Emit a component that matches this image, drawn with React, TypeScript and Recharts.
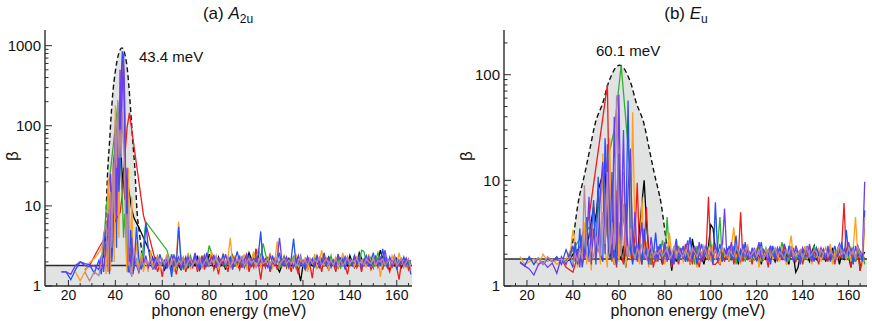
import { ComposedChart, Line, Area, XAxis, YAxis } from "recharts";

const _ = null;
const FONT = '"Liberation Sans", Arial, Helvetica, sans-serif';
const FRAME = "#2b2b2b";
const TEXT = "#111";
const GREY = "#e1e3e3";

// axis ticks
const xTicks = [15, 20, 25, 30, 35, 40, 45, 50, 55, 60, 65, 70, 75, 80, 85, 90, 95, 100, 105, 110, 115, 120, 125, 130, 135, 140, 145, 150, 155, 160, 165];
const xLabels = [20, 40, 60, 80, 100, 120, 140, 160];
const yTicksA = [1, 2, 3, 4, 5, 6, 7, 8, 9, 10, 20, 30, 40, 50, 60, 70, 80, 90, 100, 200, 300, 400, 500, 600, 700, 800, 900, 1000];
const yLabelsA = [1, 10, 100, 1000];
const yTicksB = [1, 2, 3, 4, 5, 6, 7, 8, 9, 10, 20, 30, 40, 50, 60, 70, 80, 90, 100, 200];
const yLabelsB = [1, 10, 100];

const seriesKeys = ["k", "r", "g", "o", "b", "v", "m"];
const seriesColors = ["#000000", "#ee1c1c", "#2fb02f", "#ff9f1c", "#2451f5", "#6a3cec", "#b8879b"];

// ---------- panel (a) A2u ----------
const energyA = [
  17, 19, 21, 23, 25, 27, 29, 31, 33, 34,
  35, 36, 37, 37.5, 38, 38.5, 39, 39.5, 40, 40.5,
  41, 41.5, 42, 42.5, 43, 43.5, 44, 44.5, 45, 45.5,
  46, 46.5, 47, 47.5, 48, 49, 50, 51, 52, 53,
  54, 55, 56, 57, 58, 59, 60, 61, 62, 63,
  64, 65, 66, 67, 68, 69, 70, 71, 72, 73,
  74, 75, 76, 77, 78, 79, 80, 81, 82, 83,
  84, 85, 86, 87, 88, 89, 90, 91, 92, 93,
  94, 95, 96, 97, 98, 99, 100, 101, 102, 103,
  104, 105, 106, 107, 108, 109, 110, 111, 112, 113,
  114, 115, 116, 117, 118, 119, 120, 121, 122, 123,
  124, 125, 126, 127, 128, 129, 130, 131, 132, 133,
  134, 135, 136, 137, 138, 139, 140, 141, 142, 143,
  144, 145, 146, 147, 148, 149, 150, 151, 152, 153,
  154, 155, 156, 157, 158, 159, 160, 161, 162, 163,
  164, 165, 166,
];
const blackA = [
  _, _, _, _, _, _, _, _, 1.8, 2.0,
  2.4, 3.2, 4.6, _, 9, _, 24, _, 60, _,
  105, _, 120, 45, 16, 30, 12, _, 22, _,
  14, _, 9, _, 7, _, 5.4, _, _, _,
  _, _, _, 1.9, _, 1.8, 2.0, 1.6, 1.9, 2.1,
  1.7, 1.9, 2.3, 1.8, 1.6, 2.0, 2.2, 1.7, 1.9, 2.0,
  1.8, 2.4, 1.6, 1.9, 2.2, 1.8, 2.5, 2.0, 1.7, 1.9,
  2.3, 1.8, 2.0, 1.6, 2.2, 1.9, 2.4, 1.8, 2.0, 1.7,
  2.1, 2.3, 1.9, 2.6, 2.2, 2.0, 2.8, 2.4, 1.9, 2.1,
  1.8, 2.2, 1.6, 1.9, 2.0, 1.7, 1.5, 1.8, 2.1, 1.9,
  2.2, 1.8, 2.0, 2.1, 1.6, 1.15, 1.8, 2.0, 1.7, 2.0,
  1.8, 2.2, 1.9, 1.7, 2.1, 1.8, 2.0, 2.3, 1.9, 1.8,
  2.0, 1.7, 2.2, 1.9, 2.1, 1.8, 2.4, 2.0, 1.7, 1.9,
  2.6, 2.2, 1.8, 2.0, 1.9, 2.1, 1.7, 2.3, 2.0, 2.8,
  2.2, 1.9, 2.1, 1.6, 2.0, 1.8, 2.2, 1.9, 1.7, 2.0,
  1.8, 2.1, 1.9,
];
const redA = [
  _, _, _, _, _, 1.6, 1.8, _, 3.0, _,
  _, _, _, _, 5.2, _, _, _, _, _,
  _, _, 8.2, _, 14, _, 40, _, 95, _,
  145, _, _, _, _, _, _, _, 7.6, _,
  4.6, _, _, 2.1, 1.5, 1.9, 1.3, 2.0, 1.7, 2.2,
  1.6, 1.9, 1.4, 2.0, 1.8, 2.3, 1.5, 1.9, 2.1, 1.7,
  2.2, 1.5, 1.9, 2.4, 1.6, 2.0, 1.8, 2.5, 1.6, 1.9,
  1.4, 2.2, 1.8, 2.0, 1.5, 2.3, 1.7, 2.1, 1.9, 1.6,
  2.2, 1.8, 2.5, 1.5, 2.0, 1.7, 2.9, 1.9, 1.2, 2.1,
  1.7, 2.3, 1.5, 1.9, 2.2, 1.6, 2.0, 1.8, 2.4, 1.7,
  2.0, 1.5, 2.2, 1.8, 1.4, 2.1, 1.9, 1.6, 2.0, 1.8,
  1.25, 2.2, 1.7, 2.0, 1.5, 2.3, 1.8, 1.6, 2.1, 1.9,
  1.5, 2.2, 1.7, 2.0, 1.8, 1.4, 2.1, 1.9, 2.4, 1.7,
  2.0, 1.5, 2.2, 1.8, 2.1, 1.6, 1.9, 2.3, 1.7, 2.0,
  1.6, 2.2, 1.8, 1.5, 2.1, 1.9, 1.7, 1.2, 2.0, 1.8,
  2.2, 1.6, 1.9,
];
const greenA = [
  _, _, _, _, _, _, _, _, _, 2.0,
  3.2, 8.5, _, _, _, _, _, _, _, _,
  180, _, 50, _, 12, 4, 8, _, 2.5, _,
  3, _, 1.8, _, 2.4, _, _, 1.7, _, 6.3,
  _, _, _, _, _, _, _, _, 2.8, 2.2,
  1.9, 2.5, 1.7, 2.0, 2.3, 1.6, 2.1, 1.8, 2.4, 1.9,
  2.2, 1.7, 2.0, 1.8, 2.3, 2.1, 3.2, 2.6, 1.9, 2.2,
  1.8, 2.0, 2.4, 1.7, 2.1, 1.9, 2.3, 1.8, 2.0, 2.1,
  1.7, 2.4, 1.9, 2.2, 1.8, 2.6, 2.0, 2.8, 2.3, 3.4,
  2.5, 2.0, 1.8, 2.2, 1.9, 2.1, 1.7, 2.0, 2.3, 1.8,
  2.1, 1.9, 2.4, 1.7, 2.0, 2.2, 1.8, 2.0, 1.6, 2.1,
  1.9, 2.3, 1.7, 2.0, 2.2, 1.8, 2.1, 1.9, 2.4, 1.8,
  2.0, 2.2, 1.7, 1.9, 2.3, 2.0, 1.8, 2.1, 1.9, 2.2,
  1.8, 2.8, 2.7, 2.0, 1.9, 2.3, 1.7, 2.1, 2.6, 2.0,
  1.8, 2.3, 1.9, 2.2, 1.7, 2.0, 2.1, 1.8, 2.2, 1.9,
  2.1, 1.8, 2.0,
];
const orangeA = [
  _, _, _, 1.5, 1.16, 1.5, 1.95, 2.2, 2.6, 3.0,
  3.5, 1.4, 22, 1.5, 1.6, 12, 30, 2, 180, 20,
  60, 4, 120, 250, 700, 300, 40, 3, 1.5, 30,
  8, 1.6, 13, 2, 1.6, 3.5, 1.4, 2.6, 1.5, 2.2,
  1.5, 2.8, 1.7, 2.0, 2.4, 1.6, 2.2, 1.9, 2.5, 1.8,
  2.1, 1.5, 2.3, 6.4, 1.7, 2.2, 1.9, 2.6, 1.6, 2.0,
  2.4, 1.7, 2.2, 1.9, 2.5, 1.8, 2.1, 2.7, 1.9, 2.3,
  1.6, 2.0, 2.6, 1.8, 2.2, 4.0, 1.9, 2.4, 1.7, 2.1,
  1.9, 2.5, 1.6, 2.2, 2.0, 2.7, 1.8, 3.0, 1.7, 2.3,
  1.9, 2.1, 2.6, 1.7, 2.0, 3.6, 2.2, 1.8, 2.4, 2.0,
  1.6, 2.2, 1.9, 2.5, 1.7, 2.1, 1.8, 2.3, 1.5, 2.2,
  1.9, 2.5, 1.7, 2.0, 2.8, 1.8, 2.2, 1.6, 2.1, 1.9,
  2.3, 1.7, 2.0, 2.6, 1.8, 2.2, 1.9, 2.1, 1.7, 2.4,
  1.8, 2.0, 2.2, 1.7, 2.5, 1.9, 2.1, 1.8, 2.3, 1.3,
  2.1, 1.9, 2.2, 1.7, 2.4, 2.0, 1.8, 2.6, 1.9, 2.2,
  1.7, 2.0, 1.8,
];
const blueA = [
  1.5, 1.5, 1.2, 1.6, 2.0, 1.9, 1.85, 1.45, 2.1, 1.4,
  2.8, 6, 1.5, 9, 15, 2, 4, 25, 60, 3,
  200, 15, 30, 400, 850, 500, 100, 6, 15, 1.5,
  1.5, 5, 3, 1.4, 1.7, 5.5, 2.2, 1.6, 2.0, 6.2,
  3.0, 2.0, 1.6, 2.3, 1.8, 2.5, 1.9, 2.1, 1.7, 2.0,
  1.3, 2.4, 1.8, 5.5, 2.1, 1.7, 2.3, 1.9, 2.2, 1.8,
  2.5, 2.0, 1.6, 2.2, 1.9, 2.6, 1.8, 2.1, 2.4, 1.7,
  2.2, 1.9, 2.5, 1.8, 2.0, 2.3, 1.6, 2.1, 2.7, 1.9,
  2.3, 1.7, 2.1, 2.4, 1.8, 2.2, 2.0, 2.5, 4.8, 1.8,
  2.2, 2.0, 1.6, 2.4, 1.9, 2.1, 2.6, 1.8, 2.3, 2.0,
  1.7, 2.2, 3.9, 1.9, 2.4, 1.8, 2.1, 1.6, 2.3, 1.9,
  2.2, 1.7, 2.4, 2.0, 1.8, 2.6, 1.9, 2.2, 1.7, 2.1,
  1.8, 2.5, 1.9, 2.2, 1.6, 2.3, 2.0, 1.8, 2.4, 1.9,
  2.2, 1.7, 2.1, 2.4, 1.8, 2.0, 2.6, 1.9, 2.2, 1.8,
  2.9, 2.0, 1.7, 2.3, 1.9, 2.2, 1.6, 2.1, 1.9, 2.3,
  1.8, 2.0, 1.4,
];
const violetA = [
  1.5, 1.5, 1.4, 1.8, 2.0, 1.8, 1.75, 1.8, 1.6, 2.4,
  1.5, 3.5, 8, 1.4, 25, 4, 10, 40, 80, 6,
  150, 20, 500, 80, 300, 800, 200, 10, 30, 2,
  2.5, 1.4, 4, 1.6, 2.3, 1.8, 1.5, 2.1, 1.8, 2.4,
  1.7, 2.0, 2.2, 1.6, 2.3, 1.9, 2.1, 1.7, 2.2, 1.9,
  2.5, 1.8, 2.0, 2.3, 1.6, 2.1, 1.9, 2.3, 1.8, 2.0,
  2.6, 1.7, 2.2, 1.9, 2.4, 1.8, 2.1, 1.9, 2.4, 1.7,
  2.2, 2.0, 1.8, 2.5, 1.9, 2.1, 1.7, 2.2, 1.9, 2.4,
  1.7, 2.1, 2.5, 1.8, 2.2, 1.9, 2.3, 1.8, 2.1, 2.3,
  1.9, 1.7, 2.4, 2.0, 1.8, 2.2, 4.0, 2.1, 1.8, 2.3,
  1.9, 2.0, 1.7, 2.2, 1.9, 2.4, 1.8, 2.0, 2.3, 1.8,
  2.1, 1.9, 2.4, 1.7, 2.2, 2.0, 1.8, 2.2, 1.9, 2.1,
  1.7, 2.4, 2.0, 1.8, 2.3, 1.9, 2.1, 1.8, 2.2, 2.0,
  2.4, 1.7, 2.1, 1.9, 2.3, 1.8, 2.0, 2.1, 1.8, 2.3,
  2.0, 2.8, 1.9, 2.2, 1.7, 2.4, 2.0, 1.8, 2.1, 1.9,
  2.2, 1.9, 2.1,
];
const mauveA = [
  _, _, _, _, _, 1.5, 1.16, 1.5, 1.35, 2.0,
  4.5, 6, 1.5, 10, 15, 3, 35, 8, 120, 30,
  210, 40, 90, 40, 150, 60, 25, 4, 8, 1.8,
  2, 1.5, 1.3, 2.2, 3, 1.9, 1.6, 2.2, 1.8, 2.1,
  1.9, 2.2, 1.7, 2.0, 2.3, 1.8, 2.1, 1.9, 2.4, 1.7,
  2.0, 2.2, 1.8, 2.1, 1.9, 2.3, 1.7, 2.0, 2.2, 1.8,
  2.1, 1.9, 2.3, 1.7, 2.0, 2.2, 1.8, 2.1, 1.9, 2.4,
  1.8, 2.0, 2.2, 1.9, 2.3, 1.7, 2.1, 1.9, 2.2, 2.0,
  2.3, 1.8, 2.0, 2.2, 1.9, 2.1, 1.7, 2.0, 2.3, 1.9,
  2.0, 2.2, 1.8, 2.1, 1.9, 2.3, 1.8, 2.0, 2.2, 1.9,
  2.1, 1.9, 2.2, 1.8, 2.0, 2.3, 1.9, 2.1, 1.8, 2.2,
  1.9, 2.1, 2.0, 2.3, 1.8, 2.0, 2.2, 1.9, 2.1, 1.8,
  2.2, 1.9, 2.1, 1.8, 2.0, 2.3, 1.9, 2.1, 2.0, 2.2,
  1.9, 2.1, 1.8, 2.2, 2.0, 1.9, 2.3, 1.8, 2.1, 2.0,
  2.2, 1.8, 2.0, 2.1, 1.9, 2.3, 1.8, 2.0, 2.2, 1.7,
  2.0, 2.2, 1.6,
];
// dashed envelope, peak 43.4 meV
const envEnergyA = [35.3, 35.6, 36.1, 36.8, 37.4, 38.1, 38.8, 40, 41.2, 42.8, 44.2, 45.2, 46.1, 46.8, 47.6, 48.3, 49.2, 50.3, 51.2, 51.9];
const envBetaA = [1.8, 3, 9, 30, 55, 120, 233, 480, 750, 940, 750, 480, 233, 120, 55, 30, 9, 4.5, 2.8, 1.8];
const bandEnergyA = [10, 166.5];
const bandBetaA = [1.8, 1.8];

// ---------- panel (b) Eu ----------
const energyB = [
  17, 19, 21, 23, 25, 27, 29, 31, 33, 35,
  37, 39, 40, 41, 42, 43, 44, 45, 46, 47,
  48, 49, 50, 51, 52, 53, 54, 55, 56, 57,
  58, 59, 60, 61, 62, 63, 64, 65, 66, 67,
  68, 69, 70, 71, 72, 73, 74, 75, 76, 77,
  78, 79, 80, 81, 82, 83, 84, 85, 86, 87,
  88, 89, 90, 91, 92, 93, 94, 95, 96, 97,
  98, 99, 100, 101, 102, 103, 104, 105, 106, 107,
  108, 109, 110, 111, 112, 113, 114, 115, 116, 117,
  118, 119, 120, 121, 122, 123, 124, 125, 126, 127,
  128, 129, 130, 131, 132, 133, 134, 135, 136, 137,
  138, 139, 140, 141, 142, 143, 144, 145, 146, 147,
  148, 149, 150, 151, 152, 153, 154, 155, 156, 157,
  158, 159, 160, 161, 162, 163, 164, 165, 166, 167,
];
const blackB = [
  _, _, _, _, _, _, _, _, 1.75, 1.8,
  1.7, 1.8, 2.0, _, _, 2.3, _, 1.9, _, 3.0,
  _, 5.6, 4, 8, _, 11.6, 15, 3, 1.8, 2.5,
  1.6, 3, 2, 1.8, 2.4, 1.5, 2.2, 1.9, 3, 2.2,
  1.8, 3.5, 6, 10, 4, 2.2, 1.6, 2.0, 1.7, 2.3,
  1.9, 1.6, 2.1, 1.8, 2.2, 1.4, 2.0, 1.7, 2.3, 1.9,
  2.0, 1.8, 2.2, 1.6, 2.8, 2.0, 1.7, 2.1, 1.9, 1.6,
  2.0, 2.4, 3.8, 3.5, 2.2, 1.9, 1.6, 2.1, 1.8, 2.3,
  1.7, 2.0, 1.9, 2.2, 1.6, 2.1, 1.8, 2.0, 2.3, 1.7,
  2.0, 1.8, 2.2, 1.9, 1.6, 2.1, 1.8, 2.0, 2.4, 1.9,
  1.7, 2.1, 1.9, 2.2, 1.8, 2.0, 1.6, 2.3, 1.9, 1.35,
  1.5, 2.0, 1.8, 2.2, 1.9, 1.7, 2.1, 2.4, 1.8, 2.0,
  1.9, 2.2, 1.7, 2.0, 1.8, 2.3, 1.9, 2.1, 1.6, 2.0,
  1.8, 2.2, 1.9, 1.5, 2.0, 1.7, 2.3, 1.4, 1.9, 2.1,
];
const redB = [
  _, _, _, _, _, _, _, _, _, 1.8,
  1.5, 1.4, 1.35, 1.6, 1.9, 2.3, 3, _, _, 4.5,
  _, _, _, _, _, _, _, 80, 3.6, 1.7,
  2.2, 1.5, 4, 2.0, 1.6, 6, 1.9, 2.5, 1.7, 3,
  9.5, 2, 1.6, 2.4, 5.6, 1.8, 2.2, 1.5, 2.0, 1.7,
  2.3, 1.6, 2.0, 1.8, 2.4, 1.5, 2.1, 1.9, 1.6, 2.2,
  1.8, 2.5, 1.7, 2.0, 1.6, 2.3, 1.9, 1.5, 2.1, 1.8,
  2.2, 7.0, 1.9, 1.6, 1.6, 1.7, 1.6, 2.0, 1.7, 2.2,
  1.8, 2.4, 1.6, 2.0, 1.9, 5.0, 1.7, 2.2, 1.8, 2.0,
  1.6, 2.1, 1.9, 1.7, 2.3, 1.8, 2.0, 1.5, 2.2, 1.9,
  2.0, 1.7, 2.2, 1.8, 2.5, 1.6, 2.0, 1.9, 2.3, 1.7,
  1.9, 2.2, 1.6, 2.0, 1.8, 2.4, 1.7, 2.1, 1.9, 1.6,
  2.3, 1.8, 2.0, 1.7, 2.2, 1.9, 1.6, 2.1, 1.8, 2.4,
  6.1, 1.9, 2.2, 1.5, 2.0, 1.7, 2.3, 1.4, 2.0, 1.8,
];
const greenB = [
  _, _, _, _, _, _, _, _, _, _,
  1.7, 2.0, 2.2, _, _, 2.8, _, _, _, 3.6,
  2.5, _, 4.0, _, _, _, 12, _, _, _,
  30, _, _, 123, _, _, _, 11.6, 2.9, 2.0,
  1.8, 2.3, 1.7, 2.0, 2.5, 1.9, 1.6, 2.2, 2.0, 1.8,
  2.1, 2.7, 1.9, 4.5, 2.0, 1.7, 2.2, 1.8, 2.4, 1.9,
  2.0, 1.7, 2.3, 1.9, 2.1, 1.6, 2.4, 2.0, 1.8, 2.2,
  1.9, 2.3, 2.6, 1.8, 2.1, 2.4, 4.5, 1.7, 2.2, 1.9,
  2.0, 1.8, 2.4, 1.6, 2.2, 1.9, 2.1, 1.7, 2.3, 2.0,
  1.8, 2.2, 1.9, 2.5, 1.7, 2.0, 2.3, 1.8, 2.1, 1.9,
  2.2, 1.8, 2.0, 2.6, 1.9, 2.1, 1.7, 2.3, 2.0, 1.8,
  2.1, 1.9, 2.3, 1.8, 2.0, 2.2, 1.7, 2.4, 1.9, 2.1,
  1.8, 2.2, 2.0, 1.9, 2.4, 1.7, 2.1, 1.9, 2.3, 2.0,
  1.9, 2.1, 1.8, 2.3, 2.0, 1.7, 2.2, 1.9, 2.1, 1.6,
];
const orangeB = [
  1.9, 1.6, 1.7, 1.8, 1.6, 2.0, 1.7, 1.8, 1.6, 1.75,
  1.8, 2.2, 3.4, 2.5, 1.5, 2.0, 1.7, 4, 1.6, 2.6,
  1.4, 6, 1.8, 3, 1.6, 18, 2.2, 1.5, 25, 2.0,
  1.6, 8, 1.7, 3.5, 12, 1.5, 2.4, 1.8, 44, 3.2,
  2.0, 1.6, 7, 1.8, 2.6, 1.5, 2.2, 1.9, 1.7, 2.3,
  1.8, 2.2, 1.6, 2.0, 3.2, 1.9, 1.7, 2.3, 1.8, 2.1,
  1.7, 2.0, 2.4, 1.6, 2.2, 1.9, 1.5, 2.1, 1.8, 2.3,
  1.9, 2.2, 1.7, 2.5, 1.8, 2.0, 1.6, 2.3, 1.9, 2.1,
  1.7, 2.4, 3.6, 1.9, 2.0, 1.6, 2.2, 1.8, 2.5, 1.7,
  2.0, 1.8, 2.3, 1.5, 2.1, 1.9, 2.2, 1.7, 2.4, 1.8,
  1.9, 2.1, 1.7, 2.3, 2.0, 1.6, 2.2, 3.0, 1.8, 2.0,
  2.1, 1.7, 1.9, 2.4, 1.8, 2.2, 1.6, 2.0, 1.9, 2.3,
  1.7, 2.2, 1.9, 2.0, 2.5, 1.6, 2.1, 1.8, 2.2, 1.9,
  2.0, 1.8, 2.2, 1.7, 2.3, 4.5, 1.9, 2.1, 1.6, 3.5,
];
const blueB = [
  1.7, 1.55, 1.9, 1.6, 1.85, 1.6, 1.8, 1.7, 1.9, 1.6,
  2.2, 1.7, 1.5, 2.6, 1.6, 3.5, 1.5, 2.0, 4.5, 1.7,
  3.0, 6.5, 1.6, 10.8, 2.0, 1.7, 25, 4, 1.8, 12,
  2.0, 1.6, 18, 2.5, 5, 3, 57, 2.2, 1.6, 2.4,
  1.8, 2.6, 1.6, 3.5, 2.0, 1.7, 2.4, 1.9, 3.2, 1.8,
  2.5, 1.7, 2.2, 1.9, 2.3, 1.6, 2.1, 2.8, 1.8, 2.0,
  2.4, 1.7, 2.1, 2.9, 1.8, 2.2, 1.6, 2.0, 2.5, 1.9,
  2.1, 1.8, 2.3, 1.6, 6.2, 2.0, 2.5, 1.7, 2.2, 1.9,
  2.4, 1.8, 2.0, 3.0, 1.7, 2.2, 1.9, 2.6, 1.8, 2.1,
  1.9, 2.3, 1.7, 2.1, 2.6, 1.8, 2.0, 2.2, 1.6, 2.4,
  1.8, 2.0, 2.3, 1.9, 2.1, 1.7, 2.4, 2.0, 1.8, 2.2,
  2.0, 1.6, 2.2, 1.9, 2.4, 1.8, 2.1, 1.7, 2.3, 2.0,
  1.9, 2.2, 1.8, 2.3, 1.7, 2.0, 2.4, 1.9, 2.1, 2.6,
  1.8, 3.4, 2.0, 2.2, 1.6, 2.4, 1.9, 2.1, 1.7, 5.2,
];
const violetB = [
  1.65, 1.55, 1.45, 1.27, 1.6, 1.7, 1.5, 1.65, 1.32, 1.9,
  1.6, 2.1, 2.4, 1.7, 2.2, 1.5, 3, 1.8, 2.5, 7,
  1.6, 3.5, 1.9, 2.5, 8, 15, 2, 22, 3, 1.8,
  40, 2.5, 65, 3, 30, 1.9, 8, 20, 2, 5,
  1.7, 2.6, 4, 1.8, 2.3, 1.6, 2.9, 2.0, 1.7, 2.4,
  2.0, 1.8, 2.6, 1.7, 2.2, 2.0, 1.6, 2.5, 1.9, 2.3,
  1.8, 2.2, 2.7, 1.7, 2.0, 2.4, 1.9, 2.6, 1.7, 2.1,
  2.4, 1.8, 2.2, 1.9, 2.5, 1.7, 2.1, 2.3, 5.4, 1.9,
  2.1, 2.6, 1.8, 2.3, 2.0, 1.7, 2.5, 1.9, 2.2, 1.8,
  2.3, 1.9, 2.1, 2.6, 1.8, 2.2, 2.0, 1.7, 2.4, 2.0,
  1.9, 2.3, 2.0, 1.8, 2.5, 2.1, 1.9, 2.2, 1.7, 2.4,
  2.1, 1.8, 2.3, 2.0, 1.9, 2.5, 1.7, 2.2, 2.0, 1.8,
  2.3, 2.0, 1.8, 2.4, 1.9, 2.1, 1.7, 2.2, 2.5, 1.9,
  2.2, 1.9, 2.6, 2.0, 2.3, 1.8, 2.4, 2.1, 2.0, 9.7,
];
const mauveB = [
  _, _, _, 1.7, 1.85, 1.6, 1.9, 1.7, 1.75, 1.8,
  1.7, 1.9, 1.6, 2.0, 1.7, 2.3, 1.8, 9, 2.0, 1.7,
  2.4, 1.8, 3, 2.2, 1.9, 5, 2.5, 12, 2.0, 4,
  2.2, 64, 3, 2.0, 6, 2.4, 1.9, 3.5, 2.1, 1.8,
  2.3, 1.9, 2.5, 2.0, 1.8, 2.2, 2.4, 1.9, 2.1, 2.0,
  2.2, 1.9, 2.1, 2.3, 1.8, 2.0, 2.4, 1.9, 2.2, 2.0,
  1.9, 2.2, 2.0, 1.8, 2.3, 2.1, 1.9, 2.2, 2.0, 2.4,
  2.1, 1.8, 2.3, 2.0, 2.2, 1.9, 2.1, 2.4, 2.0, 1.9,
  2.2, 2.0, 1.9, 2.3, 2.1, 1.8, 2.2, 2.0, 2.4, 1.9,
  2.0, 2.2, 1.9, 2.1, 2.3, 1.8, 2.0, 2.2, 1.9, 2.1,
  2.3, 1.9, 2.1, 2.0, 1.8, 2.2, 2.0, 2.4, 1.9, 2.1,
  2.0, 2.2, 1.8, 2.1, 2.3, 1.9, 2.0, 2.2, 2.1, 1.8,
  2.2, 2.0, 2.3, 1.9, 2.1, 2.0, 1.8, 2.2, 2.4, 2.0,
  2.1, 1.9, 2.3, 2.0, 2.2, 1.8, 2.4, 2.0, 2.1, 4.5,
];
// dashed envelope, peak 60.1 meV
const envEnergyB = [38.7, 40.0, 42.1, 45.2, 47.3, 49.5, 53.4, 55.1, 56.8, 58.5, 60.3, 62.1, 63.8, 65.5, 67.2, 71.1, 73.3, 75.4, 78.5, 80.6, 81.9];
const envBetaB = [1.8, 2.7, 5.8, 11.7, 19.4, 33.2, 57.6, 79.5, 98.9, 116, 123, 116, 98.9, 79.5, 57.6, 33.2, 19.4, 11.7, 5.8, 2.7, 1.8];
const bandEnergyB = [10, 168];
const bandBetaB = [1.8, 1.8];

const toRows = (e: number[], cols: (number | null)[][]) =>
  e.map((x, i) => {
    const row: any = { e: x };
    seriesKeys.forEach((k, j) => (row[k] = cols[j][i]));
    return row;
  });
const toPairs = (e: number[], v: number[]) => e.map((x, i) => ({ e: x, v: v[i] }));

const rowsA = toRows(energyA, [blackA, redA, greenA, orangeA, blueA, violetA, mauveA]);
const rowsB = toRows(energyB, [blackB, redB, greenB, orangeB, blueB, violetB, mauveB]);

function BottomTick(props: any) {
  const { x, y, payload } = props;
  const major = payload.value % 20 === 0;
  return (
    <g>
      <line x1={x} y1={y} x2={x} y2={y - (major ? 6 : 3)} stroke={FRAME} strokeWidth={1} />
      {xLabels.includes(payload.value) && (
        <text x={x} y={y + 14} textAnchor="middle" fontSize={14} fontFamily={FONT} fill={TEXT}>
          {payload.value}
        </text>
      )}
    </g>
  );
}

function TopTick(props: any) {
  const { x, y, payload } = props;
  const major = payload.value % 20 === 0;
  return <line x1={x} y1={y} x2={x} y2={y + (major ? 6 : 3)} stroke={FRAME} strokeWidth={1} />;
}

function LeftTick(props: any) {
  const { x, y, payload, labels } = props;
  const major = labels.includes(payload.value);
  return (
    <g>
      <line x1={x} y1={y} x2={x + (major ? 7 : 3.5)} y2={y} stroke={FRAME} strokeWidth={1} />
      {major && (
        <text x={x - 4} y={y} dy="0.36em" textAnchor="end" fontSize={15} fontFamily={FONT} fill={TEXT}>
          {payload.value}
        </text>
      )}
    </g>
  );
}

function RightTick(props: any) {
  const { x, y, payload, labels } = props;
  const major = labels.includes(payload.value);
  return <line x1={x} y1={y} x2={x - (major ? 7 : 3.5)} y2={y} stroke={FRAME} strokeWidth={1} />;
}

type PanelProps = {
  left: number;
  yAxisWidth: number;
  marginRight: number;
  xDomain: [number, number];
  yDomain: [number, number];
  yTicks: number[];
  yLabels: number[];
  rows: any[];
  envelope: { e: number; v: number }[];
  band: { e: number; v: number }[];
};

function Panel(p: PanelProps) {
  const axisLine = { stroke: FRAME, strokeWidth: 1.4 };
  return (
    <div style={{ position: "absolute", left: p.left, top: 0 }}>
      <ComposedChart width={436} height={321} data={p.rows} margin={{ top: 30, right: p.marginRight, bottom: 0, left: 0 }}>
        <XAxis
          dataKey="e" type="number" domain={p.xDomain} allowDataOverflow ticks={xTicks} interval={0}
          tickLine={false} tickSize={0} tickMargin={0} height={35} axisLine={axisLine}
          tick={(t: any) => <BottomTick {...t} />}
        />
        <XAxis
          xAxisId="top" orientation="top" type="number" domain={p.xDomain} allowDataOverflow ticks={xTicks} interval={0}
          tickLine={false} tickSize={0} tickMargin={0} height={0} axisLine={axisLine}
          tick={(t: any) => <TopTick {...t} />}
        />
        <YAxis
          type="number" scale="log" domain={p.yDomain} allowDataOverflow ticks={p.yTicks} interval={0}
          tickLine={false} tickSize={0} tickMargin={0} width={p.yAxisWidth} axisLine={axisLine}
          tick={(t: any) => <LeftTick {...t} labels={p.yLabels} />}
        />
        <YAxis
          yAxisId="right" orientation="right" type="number" scale="log" domain={p.yDomain} allowDataOverflow ticks={p.yTicks} interval={0}
          tickLine={false} tickSize={0} tickMargin={0} width={0} axisLine={axisLine}
          tick={(t: any) => <RightTick {...t} labels={p.yLabels} />}
        />
        <Area data={p.band} dataKey="v" type="linear" stroke="none" fill={GREY} fillOpacity={1} baseValue={1} isAnimationActive={false} />
        <Area
          data={p.envelope} dataKey="v" type="monotone" stroke="#111" strokeWidth={1.4} strokeDasharray="5 3"
          fill={GREY} fillOpacity={1} baseValue={1} isAnimationActive={false}
        />
        <Line data={p.band} dataKey="v" type="linear" stroke={FRAME} strokeWidth={1.6} dot={false} isAnimationActive={false} />
        {seriesKeys.map((k, i) => (
          <Line
            key={k} dataKey={k} type="linear" stroke={seriesColors[i]} strokeWidth={1.3}
            dot={false} activeDot={false} connectNulls isAnimationActive={false}
          />
        ))}
      </ComposedChart>
    </div>
  );
}

export default function App() {
  return (
    <div style={{ position: "absolute", left: 0, top: 0, width: 872, height: 321, background: "#fff", fontFamily: FONT }}>
      <Panel
        left={0} yAxisWidth={45} marginRight={24} xDomain={[10, 166.5]} yDomain={[1, 1570]}
        yTicks={yTicksA} yLabels={yLabelsA} rows={rowsA}
        envelope={toPairs(envEnergyA, envBetaA)} band={toPairs(bandEnergyA, bandBetaA)}
      />
      <Panel
        left={436} yAxisWidth={68} marginRight={5} xDomain={[10, 168]} yDomain={[1, 265]}
        yTicks={yTicksB} yLabels={yLabelsB} rows={rowsB}
        envelope={toPairs(envEnergyB, envBetaB)} band={toPairs(bandEnergyB, bandBetaB)}
      />
      <svg width={872} height={321} style={{ position: "absolute", left: 0, top: 0, pointerEvents: "none" }} fontFamily={FONT} fill={TEXT}>
        <text x={228} y={19} textAnchor="middle" fontSize={17}>
          (a) <tspan fontStyle="italic">A</tspan>
          <tspan fontSize={12} dy={4}>2u</tspan>
        </text>
        <text x={686} y={19} textAnchor="middle" fontSize={17}>
          (b) <tspan fontStyle="italic">E</tspan>
          <tspan fontSize={12} dy={4}>u</tspan>
        </text>
        <text x={139} y={62} fontSize={15}>43.4 meV</text>
        <text x={596} y={56} fontSize={15}>60.1 meV</text>
        <text transform="translate(18,156) rotate(-90)" textAnchor="middle" fontSize={17}>β</text>
        <text transform="translate(472,156) rotate(-90)" textAnchor="middle" fontSize={17}>β</text>
        <text x={229} y={316} textAnchor="middle" fontSize={16}>phonon energy (meV)</text>
        <text x={688} y={316} textAnchor="middle" fontSize={16}>phonon energy (meV)</text>
      </svg>
    </div>
  );
}
